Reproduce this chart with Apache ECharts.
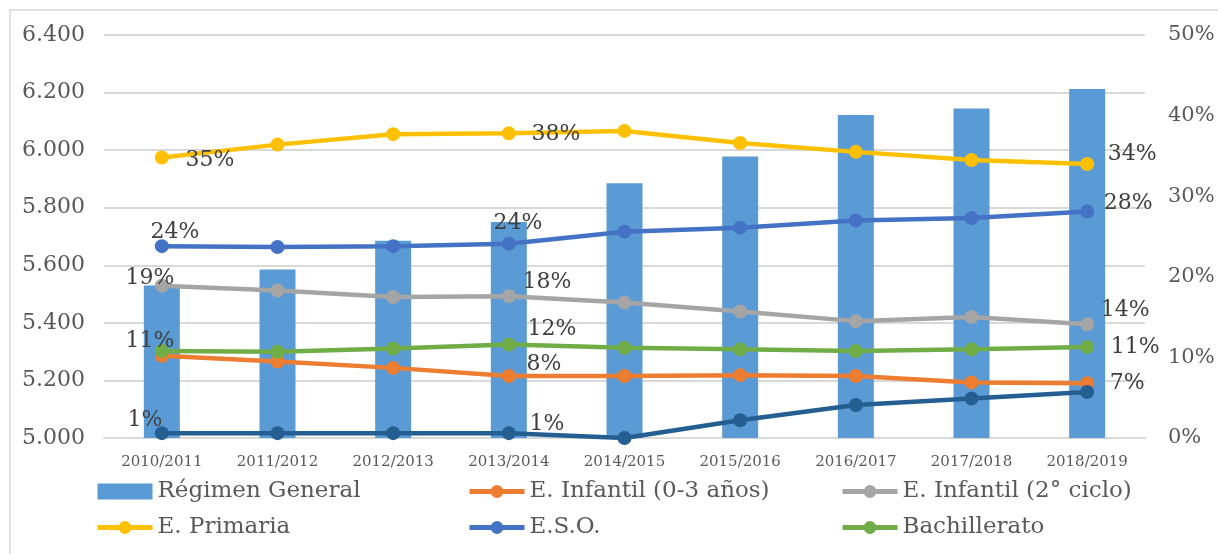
<!DOCTYPE html>
<html>
<head>
<meta charset="utf-8">
<script src="https://cdn.jsdelivr.net/npm/echarts@6/dist/echarts.min.js"></script>
<style>
  html, body { margin: 0; padding: 0; background: #fff; }
  #chart { width: 1218px; height: 554px; }
</style>
</head>
<body>
<div id="chart"></div>
<script>
// datos
var cursos = ['2010/2011', '2011/2012', '2012/2013', '2013/2014', '2014/2015',
              '2015/2016', '2016/2017', '2017/2018', '2018/2019'];
var regimenGeneral = [5530, 5585, 5685, 5750, 5885, 5978, 6122, 6145, 6212];
var infantil03     = [10.2, 9.5, 8.7, 7.7, 7.7, 7.8, 7.7, 6.9, 6.8];
var infantil2      = [18.9, 18.3, 17.5, 17.6, 16.8, 15.7, 14.5, 15.0, 14.1];
var primaria       = [34.8, 36.4, 37.7, 37.8, 38.1, 36.6, 35.5, 34.5, 34.0];
var eso            = [23.8, 23.7, 23.8, 24.1, 25.6, 26.1, 27.0, 27.3, 28.1];
var bachillerato   = [10.8, 10.7, 11.1, 11.6, 11.2, 11.0, 10.8, 11.0, 11.3];
var otros          = [0.6, 0.6, 0.6, 0.6, 0, 2.2, 4.1, 4.9, 5.7];

var FONT = 'DejaVu Serif';

// etiquetas visibles: indice -> desplazamiento del texto
var etiquetas = {
  primaria:     { 0: [48, 3],  3: [47, 1],   8: [45, -10] },
  eso:          { 0: [13, -14], 3: [9, -20], 8: [41, -8] },
  infantil2:    { 0: [-12, -7], 3: [38, -14], 8: [38, -14] },
  bachillerato: { 0: [-12, -10], 3: [43, -15], 8: [48, 0] },
  infantil03:   { 3: [35, -12], 8: [40, 0] },
  otros:        { 0: [-17, -13], 3: [38, -9] }
};

function puntos(valores, marcas) {
  return valores.map(function (v, i) {
    if (!marcas || !marcas[i]) return v;
    return {
      value: v,
      label: {
        show: true,
        position: 'inside',
        offset: marcas[i],
        formatter: Math.round(v) + '%',
        color: '#404040',
        fontFamily: FONT,
        fontSize: 22
      }
    };
  });
}

function linea(nombre, color, valores, marcas) {
  return {
    name: nombre,
    type: 'line',
    yAxisIndex: 1,
    data: puntos(valores, marcas),
    symbol: 'circle',
    symbolSize: 14,
    itemStyle: { color: color },
    lineStyle: { color: color, width: 4.5 },
    emphasis: { disabled: true },
    z: 3
  };
}

var chart = echarts.init(document.getElementById('chart'), null, { renderer: 'canvas' });

var legendText = { fontFamily: FONT, fontSize: 23, color: '#595959' };
function leyenda(left, nombres) {
  return {
    orient: 'vertical',
    left: left,
    top: 475,
    itemWidth: 55,
    itemHeight: 16,
    itemGap: 13,
    selectedMode: false,
    lineStyle: { width: 5 },
    data: nombres.map(function (n) {
      return n === 'Régimen General' ? { name: n, icon: 'rect' } : n;
    }),
    textStyle: legendText
  };
}

chart.setOption({
  animation: false,
  graphic: [{
    type: 'rect',
    shape: { x: 10, y: 10, width: 1240, height: 600 },
    style: { fill: null, stroke: '#d9d9d9', lineWidth: 1.5 },
    silent: true
  }],
  grid: { left: 104, right: 73, top: 35, bottom: 116 },
  legend: [
    leyenda(90, ['Régimen General', 'E. Primaria']),
    leyenda(462, ['E. Infantil (0-3 años)', 'E.S.O.']),
    leyenda(835, ['E. Infantil (2° ciclo)', 'Bachillerato'])
  ],
  xAxis: {
    type: 'category',
    data: cursos,
    axisTick: { show: false },
    axisLine: { lineStyle: { color: '#d9d9d9', width: 2 } },
    axisLabel: { fontFamily: FONT, fontSize: 15, color: '#595959', margin: 17 }
  },
  yAxis: [{
    type: 'value',
    min: 5000,
    max: 6400,
    interval: 200,
    axisLine: { show: false },
    axisTick: { show: false },
    splitLine: { lineStyle: { color: '#d9d9d9', width: 2 } },
    axisLabel: {
      fontFamily: FONT, fontSize: 22, color: '#595959', margin: 19,
      formatter: function (v) { return (v / 1000).toFixed(3); }
    }
  }, {
    type: 'value',
    min: 0,
    max: 50,
    interval: 10,
    axisLine: { show: false },
    axisTick: { show: false },
    splitLine: { show: false },
    axisLabel: {
      fontFamily: FONT, fontSize: 21, color: '#595959', margin: 23,
      formatter: '{value}%'
    }
  }],
  series: [
    {
      name: 'Régimen General',
      type: 'bar',
      data: regimenGeneral,
      barWidth: 36,
      itemStyle: { color: '#5B9BD5' },
      emphasis: { disabled: true },
      z: 2
    },
    linea('E. Infantil (0-3 años)', '#ED7D31', infantil03, etiquetas.infantil03),
    linea('E. Infantil (2° ciclo)', '#A5A5A5', infantil2, etiquetas.infantil2),
    linea('E. Primaria', '#FFC000', primaria, etiquetas.primaria),
    linea('E.S.O.', '#4472C4', eso, etiquetas.eso),
    linea('Bachillerato', '#70AD47', bachillerato, etiquetas.bachillerato),
    linea('Otros', '#255E91', otros, etiquetas.otros)
  ]
});
</script>
</body>
</html>
